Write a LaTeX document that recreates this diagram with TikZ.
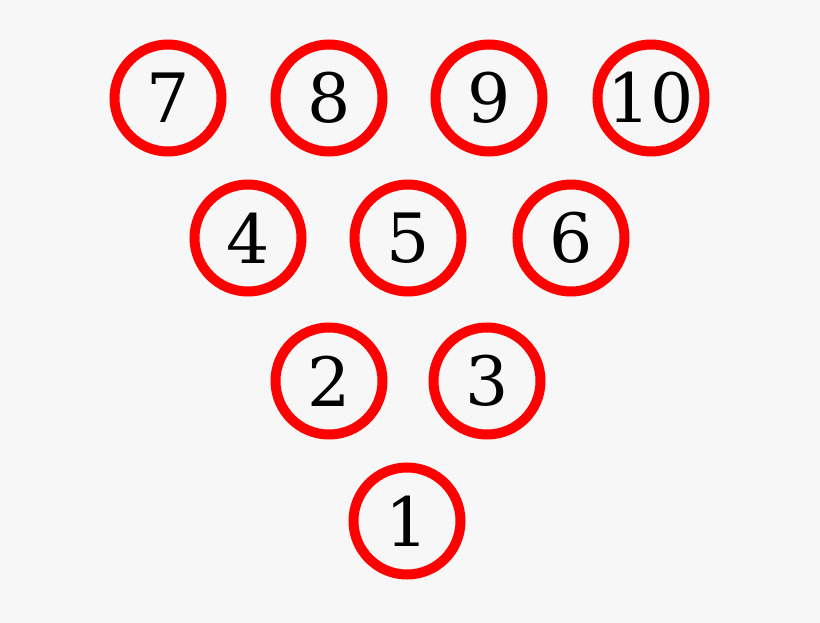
\documentclass[tikz,border=0pt]{standalone}
\usepackage{fontspec}
\setmainfont{DejaVu Serif}
\usepackage{tikz}
\definecolor{pinred}{RGB}{255,0,0}
\definecolor{backgray}{RGB}{247,247,247}

\begin{document}
\begin{tikzpicture}[x=1pt,y=-1pt,
  pin/.style={circle,draw=pinred,line width=10pt,minimum size=107pt,inner sep=0pt,
    font=\fontsize{68}{80}\selectfont}]
  \fill[backgray] (0,0) rectangle (820,623);
  \useasboundingbox (0,0) rectangle (820,623);
  \node[pin] (P7) at (168,98){7};
  \node[pin] (P8) at (329,98){8};
  \node[pin] (P9) at (489,98){9};
  \node[pin] (P10) at (651,98){10};
  \node[pin] (P4) at (248,238){4};
  \node[pin] (P5) at (408,238){5};
  \node[pin] (P6) at (571,238){6};
  \node[pin] (P2) at (329,381){2};
  \node[pin] (P3) at (487,381){3};
  \node[pin] (P1) at (407,521){1};
\end{tikzpicture}
\end{document}
